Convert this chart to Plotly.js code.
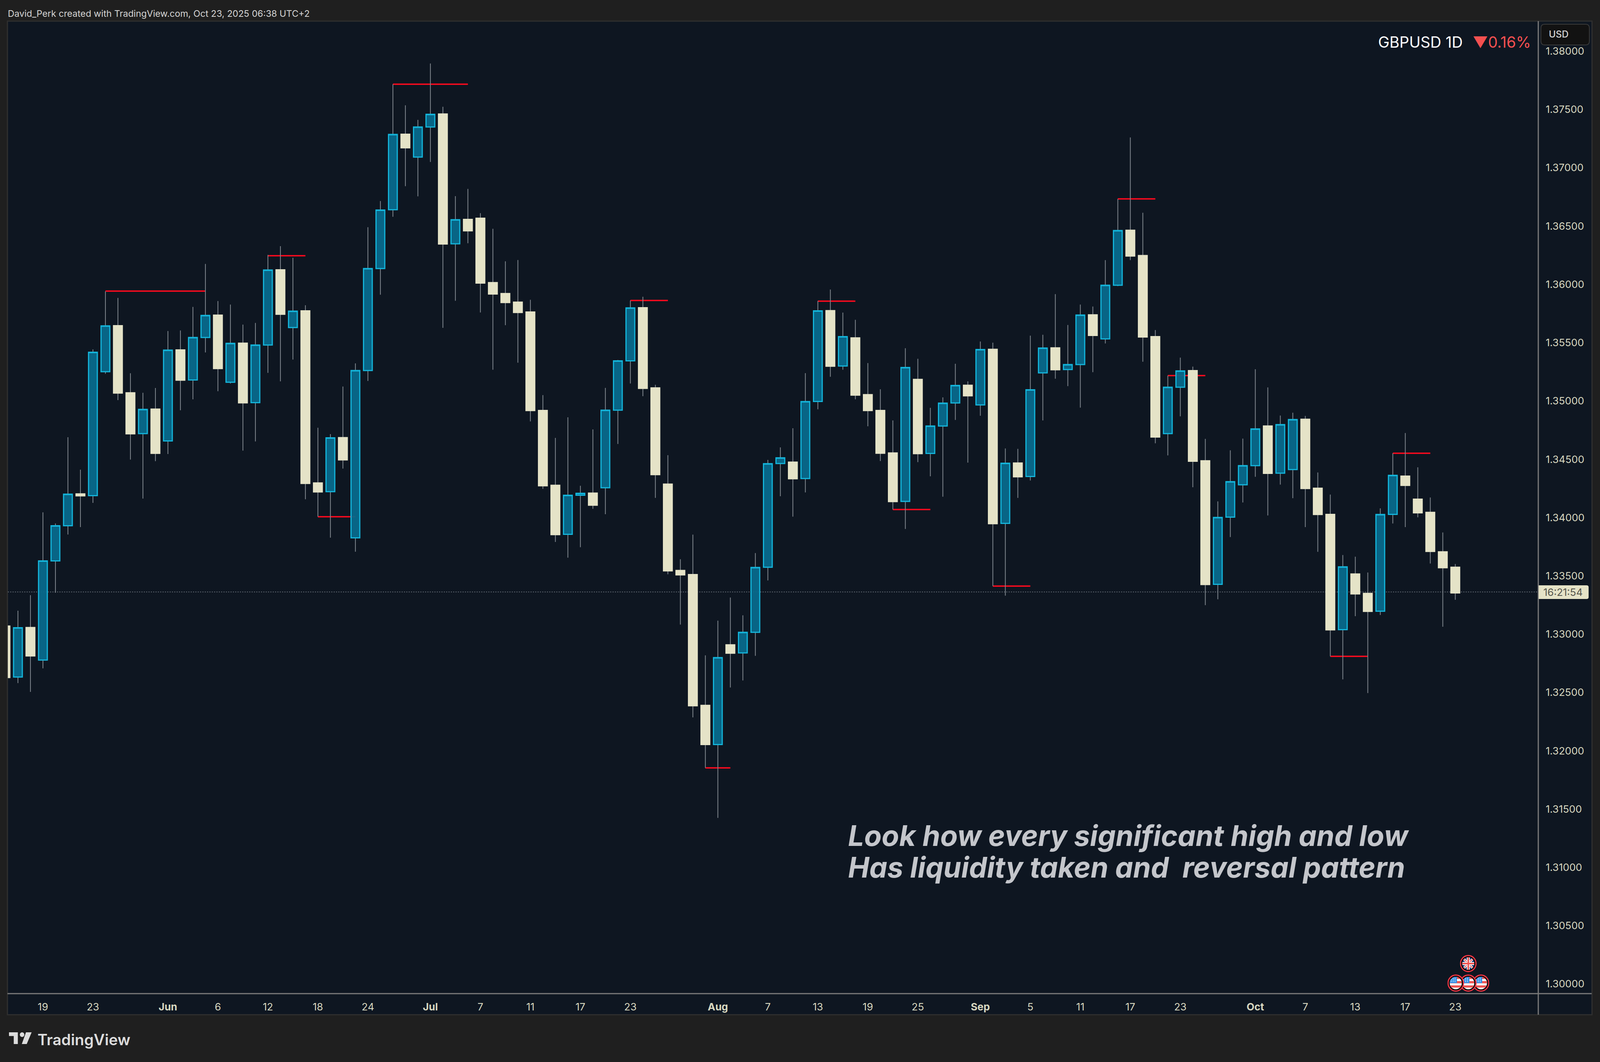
<!DOCTYPE html>
<html>
<head>
<meta charset="utf-8">
<title>GBPUSD 1D</title>
<script src="https://cdn.plot.ly/plotly-3.0.1.min.js"></script>
<style>
    html, body { margin: 0; padding: 0; background: #1f1f1f; overflow: hidden; }
</style>
</head>
<body>
<div id="graf"></div>
<script>
var days = [
    'May 14','May 15','May 16','May 19','May 20','May 21','May 22','May 23','May 26','May 27','May 28','May 29','May 30',
    'Jun 2','Jun 3','Jun 4','Jun 5','Jun 6','Jun 9','Jun 10','Jun 11','Jun 12','Jun 13','Jun 16','Jun 17','Jun 18','Jun 19','Jun 20','Jun 23','Jun 24','Jun 25','Jun 26','Jun 27','Jun 30',
    'Jul 1','Jul 2','Jul 3','Jul 4','Jul 7','Jul 8','Jul 9','Jul 10','Jul 11','Jul 14','Jul 15','Jul 16','Jul 17','Jul 18','Jul 21','Jul 22','Jul 23','Jul 24','Jul 25','Jul 28','Jul 29','Jul 30','Jul 31',
    'Aug 1','Aug 4','Aug 5','Aug 6','Aug 7','Aug 8','Aug 11','Aug 12','Aug 13','Aug 14','Aug 15','Aug 18','Aug 19','Aug 20','Aug 21','Aug 22','Aug 25','Aug 26','Aug 27','Aug 28','Aug 29',
    'Sep 1','Sep 2','Sep 3','Sep 4','Sep 5','Sep 8','Sep 9','Sep 10','Sep 11','Sep 12','Sep 15','Sep 16','Sep 17','Sep 18','Sep 19','Sep 22','Sep 23','Sep 24','Sep 25','Sep 26','Sep 29','Sep 30',
    'Oct 1','Oct 2','Oct 3','Oct 6','Oct 7','Oct 8','Oct 9','Oct 10','Oct 13','Oct 14','Oct 15','Oct 16','Oct 17','Oct 20','Oct 21','Oct 22','Oct 23'
];
var opens = [
    1.33070,1.32632,1.33057,1.32778,1.33628,1.33930,1.34203,1.34188,1.35251,1.35646,1.35070,1.34720,1.34930,1.34657,1.35438,1.35180,
    1.35544,1.35736,1.35161,1.35496,1.34986,1.35480,1.36125,1.35630,1.35773,1.34297,1.34222,1.34686,1.33826,1.35261,1.36136,1.36640,
    1.37288,1.37092,1.37350,1.37461,1.36348,1.36557,1.36567,1.36015,1.35921,1.35848,1.35763,1.34919,1.34277,1.33856,1.34191,1.34210,
    1.34256,1.34921,1.35344,1.35800,1.35112,1.34287,1.33546,1.33511,1.32389,1.32053,1.32909,1.32839,1.33016,1.33574,1.34464,1.34475,
    1.34335,1.34996,1.35775,1.35300,1.35541,1.35054,1.34919,1.34554,1.34139,1.35185,1.34550,1.34785,1.34983,1.35135,1.34966,1.35443,
    1.33950,1.34468,1.34352,1.35241,1.35456,1.35270,1.35312,1.35739,1.35533,1.35993,1.36464,1.36247,1.35552,1.34720,1.35118,1.35260,
    1.34487,1.33427,1.34004,1.34281,1.34445,1.34785,1.34381,1.34412,1.34843,1.34252,1.34027,1.33039,1.33516,1.33349,1.33197,1.34027,
    1.34356,1.34158,1.34045,1.33706,1.33574
];
var highs = [
    1.33100,1.33201,1.33334,1.34045,1.33949,1.34689,1.34411,1.35442,1.35940,1.35884,1.35238,1.35070,1.35111,1.35600,1.35605,1.35807,
    1.36175,1.35857,1.35827,1.35655,1.35669,1.36252,1.36328,1.36228,1.35821,1.34770,1.34716,1.35124,1.35322,1.36490,1.36715,1.37717,
    1.37536,1.37411,1.37894,1.37523,1.36757,1.36819,1.36611,1.36477,1.36198,1.36209,1.35868,1.35050,1.34683,1.34860,1.34273,1.34756,
    1.35112,1.35352,1.35862,1.35894,1.35139,1.34535,1.33643,1.33854,1.32818,1.33116,1.33314,1.33162,1.33695,1.34495,1.34602,1.34766,
    1.35239,1.35858,1.35956,1.35758,1.35696,1.35325,1.35100,1.34833,1.35452,1.35362,1.34941,1.35031,1.35319,1.35168,1.35510,1.35500,
    1.34593,1.34589,1.35560,1.35568,1.35916,1.35652,1.35827,1.35810,1.36208,1.36733,1.37260,1.36614,1.35608,1.35218,1.35372,1.35295,
    1.34675,1.34139,1.34577,1.34677,1.35272,1.35116,1.34875,1.34899,1.34872,1.34387,1.34197,1.33679,1.33664,1.33529,1.34079,1.34552,
    1.34725,1.34431,1.34172,1.33872,1.33602
];
var lows = [
    1.32600,1.32580,1.32505,1.32707,1.33355,1.33855,1.33918,1.34126,1.35234,1.35007,1.34497,1.34163,1.34484,1.34545,1.34920,1.35014,
    1.35416,1.35084,1.35150,1.34574,1.34653,1.35241,1.35168,1.35355,1.34157,1.34007,1.33828,1.34420,1.33707,1.35172,1.35911,1.36580,
    1.36842,1.36755,1.37050,1.35627,1.35859,1.36353,1.35759,1.35268,1.35650,1.35328,1.34825,1.34246,1.33791,1.33656,1.33746,1.34075,
    1.34029,1.34631,1.35150,1.35041,1.34169,1.33514,1.33082,1.32286,1.31853,1.31424,1.32543,1.32603,1.32814,1.33461,1.34183,1.34008,
    1.34216,1.34929,1.35208,1.35268,1.35014,1.34783,1.34485,1.34069,1.33902,1.34475,1.34354,1.34179,1.34837,1.34471,1.34873,1.33412,
    1.33330,1.34169,1.34318,1.34833,1.35191,1.35127,1.34943,1.35247,1.35493,1.35985,1.36208,1.35337,1.34637,1.34533,1.34868,1.34260,
    1.33249,1.33299,1.33833,1.34129,1.34350,1.34018,1.34283,1.34166,1.33918,1.33706,1.32810,1.32612,1.33154,1.32495,1.33164,1.33949,
    1.33918,1.34002,1.33606,1.33064,1.33295
];
var closes = [
    1.32628,1.33055,1.32813,1.33628,1.33930,1.34201,1.34186,1.35418,1.35644,1.35068,1.34718,1.34928,1.34551,1.35436,1.35178,1.35544,
    1.35734,1.35278,1.35494,1.34984,1.35480,1.36123,1.35744,1.35771,1.34293,1.34220,1.34684,1.34495,1.35261,1.36136,1.36638,1.37286,
    1.37171,1.37350,1.37459,1.36346,1.36555,1.36459,1.36011,1.35917,1.35844,1.35759,1.34918,1.34273,1.33854,1.34191,1.34208,1.34106,
    1.34921,1.35344,1.35798,1.35108,1.34368,1.33543,1.33509,1.32386,1.32053,1.32799,1.32837,1.33016,1.33572,1.34462,1.34512,1.34333,
    1.34995,1.35773,1.35298,1.35552,1.35050,1.34918,1.34552,1.34137,1.35287,1.34548,1.34785,1.34981,1.35133,1.35044,1.35441,1.33948,
    1.34466,1.34350,1.35096,1.35454,1.35268,1.35312,1.35737,1.35562,1.35993,1.36462,1.36243,1.35549,1.34691,1.35118,1.35258,1.34483,
    1.33426,1.34001,1.34308,1.34445,1.34760,1.34379,1.34797,1.34841,1.34249,1.34026,1.33037,1.33577,1.33345,1.33195,1.34026,1.34362,
    1.34276,1.34041,1.33710,1.33570,1.33354
];

// red liquidity levels
var levelStart = ['May 26','Jun 12','Jun 18','Jun 26','Jul 23','Jul 31','Aug 13','Aug 21','Sep 2','Sep 16','Sep 22','Oct 9','Oct 16'];
var levelEnd   = ['Jun 5','Jun 17','Jun 23','Jul 4','Jul 28','Aug 4','Aug 18','Aug 26','Sep 5','Sep 19','Sep 25','Oct 14','Oct 21'];
var levelPrice = [1.35942,1.36246,1.34007,1.37717,1.35862,1.31853,1.35856,1.34069,1.33412,1.36733,1.35218,1.32810,1.34552];
var lastPrice = 1.33362;

var priceTicks = [1.30,1.305,1.31,1.315,1.32,1.325,1.33,1.335,1.34,1.345,1.35,1.355,1.36,1.365,1.37,1.375,1.38];
var timeTicks = ['May 19','May 23','Jun 2','Jun 6','Jun 12','Jun 18','Jun 24','Jul 1','Jul 7','Jul 11','Jul 17','Jul 23','Aug 1','Aug 7','Aug 13','Aug 19','Aug 25','Sep 1','Sep 5','Sep 11','Sep 17','Sep 23','Oct 1','Oct 7','Oct 13','Oct 17','Oct 23'];
var timeLabels = ['19','23','<b>Jun</b>','6','12','18','24','<b>Jul</b>','7','11','17','23','<b>Aug</b>','7','13','19','25','<b>Sep</b>','5','11','17','23','<b>Oct</b>','7','13','17','23'];

// the window can be narrower than the reference, so everything is placed in reference pixels and fitted
var sirka = window.innerWidth, vyska = 2718;
var k = sirka / 4228;
var okraj = { l: 21 * k, r: 163 * k, t: 54, b: 175, pad: 0 };
var pismo = 'Inter, "Noto Sans", sans-serif';

function px(x) { return (x * k - okraj.l) / (sirka - okraj.l - okraj.r); }
function py(y) { return 1 - (y - okraj.t) / (vyska - okraj.t - okraj.b); }

function ramik(x0, y0, x1, y1, rl, rr) {
    return 'M' + px(x0 + rl) + ',' + py(y0) + ' L' + px(x1 - rr) + ',' + py(y0) +
        ' Q' + px(x1) + ',' + py(y0) + ' ' + px(x1) + ',' + py(y0 + rr) +
        ' L' + px(x1) + ',' + py(y1 - rr) +
        ' Q' + px(x1) + ',' + py(y1) + ' ' + px(x1 - rr) + ',' + py(y1) +
        ' L' + px(x0 + rl) + ',' + py(y1) +
        ' Q' + px(x0) + ',' + py(y1) + ' ' + px(x0) + ',' + py(y1 - rl) +
        ' L' + px(x0) + ',' + py(y0 + rl) +
        ' Q' + px(x0) + ',' + py(y0) + ' ' + px(x0 + rl) + ',' + py(y0) + ' Z';
}

function text(x, y, obsah, velkost, farba, xanchor, navyse) {
    var a = {
        xref: 'paper', yref: 'paper', x: px(x), y: py(y), text: obsah, showarrow: false,
        xanchor: xanchor, yanchor: 'middle', borderpad: 0,
        font: { family: pismo, size: velkost, color: farba }
    };
    for (var kluc in navyse) { a.font[kluc] = navyse[kluc]; }
    return a;
}

var wickTrace = {
    type: 'candlestick', x: days, open: opens, high: highs, low: lows, close: closes,
    whiskerwidth: 0, hoverinfo: 'skip', showlegend: false,
    increasing: { line: { color: '#7f868d', width: 2 }, fillcolor: 'rgba(0,0,0,0)' },
    decreasing: { line: { color: '#7f868d', width: 2 }, fillcolor: 'rgba(0,0,0,0)' }
};
var bodyTrace = {
    type: 'candlestick', x: days, open: opens, close: closes,
    high: opens.map(function (o, i) { return Math.max(o, closes[i]); }),
    low: opens.map(function (o, i) { return Math.min(o, closes[i]); }),
    whiskerwidth: 0, hoverinfo: 'skip', showlegend: false,
    increasing: { line: { color: '#13b4da', width: 3 }, fillcolor: 'rgba(8,106,140,0.94)' },
    decreasing: { line: { color: '#e5e3c7', width: 3 }, fillcolor: '#e5e3c7' }
};

var shapes = [
    // chart panel and its dividers
    { type: 'rect', xref: 'paper', yref: 'paper', x0: px(20), x1: px(4207), y0: py(54), y1: py(2597), layer: 'below',
      fillcolor: '#0e1621', line: { color: '#2f2f2f', width: 3 } },
    { type: 'line', xref: 'paper', yref: 'paper', x0: px(20), x1: px(4206), y0: py(2543), y1: py(2543), layer: 'above',
      line: { color: '#7a7a7a', width: 3 } },
    { type: 'line', xref: 'paper', yref: 'paper', x0: px(4065), x1: px(4065), y0: py(54), y1: py(2597), layer: 'above',
      line: { color: '#7a7a7a', width: 3 } },
    { type: 'line', xref: 'paper', yref: 'y', x0: 0, x1: 1, y0: lastPrice, y1: lastPrice, layer: 'below',
      line: { color: '#59616b', width: 2, dash: '3px,3px' } },
    // currency box and countdown box
    { type: 'path', xref: 'paper', yref: 'paper', path: ramik(4072, 62, 4200, 115, 10, 10), layer: 'above',
      fillcolor: '#121212', line: { color: '#3a3a3a', width: 2 } },
    { type: 'path', xref: 'paper', yref: 'paper', path: ramik(4066, 1498, 4198, 1533, 1, 5), layer: 'above',
      fillcolor: '#e5e3c7', line: { width: 0 } }
];
for (var i = 0; i < levelPrice.length; i++) {
    shapes.push({
        type: 'line', xref: 'x', yref: 'y', x0: levelStart[i], x1: levelEnd[i], y0: levelPrice[i], y1: levelPrice[i],
        layer: 'below', line: { color: '#ff0a1e', width: 3.5 }
    });
}

var annotations = [
    text(20, 35, 'David_Perk created with TradingView.com, Oct 23, 2025 06:38 UTC+2', 23.2, '#d4d4d4', 'left'),
    text(3867, 108, 'GBPUSD 1D', 39, '#ffffff', 'right'),
    text(3891, 108, '▼0.16%', 39, '#f45050', 'left'),
    text(4092, 88, 'USD', 24, '#d6d6d6', 'left', { weight: 500 }),
    text(4131, 1515, '16:21:54', 26, '#55554c', 'center'),
    text(2240, 2138, 'Look how every significant high and low', 73, '#c4c6cb', 'left', { style: 'italic', weight: 700 }),
    text(2240, 2219, 'Has liquidity taken and  reversal pattern', 73, '#c4c6cb', 'left', { style: 'italic', weight: 700 }),
    text(98, 2660, 'TradingView', 39, '#dcdcdc', 'left', { weight: 600 })
];

function svgObrazok(svg) {
    return 'data:image/svg+xml;charset=utf-8,' + encodeURIComponent(svg);
}

function vlajka(obsah) {
    return svgObrazok('<svg xmlns="http://www.w3.org/2000/svg" viewBox="0 0 44 44">' +
        '<defs><clipPath id="k"><circle cx="22" cy="22" r="16"/></clipPath></defs>' +
        '<circle cx="22" cy="22" r="20.5" fill="#0b0b0b" stroke="#f23645" stroke-width="3"/>' +
        '<g clip-path="url(#k)">' + obsah + '</g></svg>');
}

var usa = vlajka('<rect x="6" y="6" width="32" height="32" fill="#f4f6f8"/>' +
    '<rect x="6" y="17" width="32" height="5.5" fill="#ef5350"/>' +
    '<rect x="6" y="28" width="32" height="5.5" fill="#ef5350"/><rect x="6" y="6" width="32" height="5.5" fill="#ef5350"/>' +
    '<rect x="6" y="6" width="19" height="16" fill="#2f8fe8"/>' +
    '<path d="M9 10h2M14 10h2M19 10h2M9 14h2M14 14h2M19 14h2M9 18h2M14 18h2M19 18h2" stroke="#fff" stroke-width="2"/>');
var britania = vlajka('<rect x="6" y="6" width="32" height="32" fill="#17397f"/>' +
    '<path d="M6 6L38 38M38 6L6 38" stroke="#f4f6f8" stroke-width="6"/>' +
    '<path d="M6 6L38 38M38 6L6 38" stroke="#ef5350" stroke-width="2"/>' +
    '<path d="M22 6V38M6 22H38" stroke="#f4f6f8" stroke-width="8"/>' +
    '<path d="M22 6V38M6 22H38" stroke="#ef5350" stroke-width="4"/>');
var logo = svgObrazok('<svg xmlns="http://www.w3.org/2000/svg" viewBox="0 0 60 30">' +
    '<path d="M0 0H23.5V30H12.7V9.5H0Z" fill="#dcdcdc"/><circle cx="34.7" cy="6" r="6" fill="#dcdcdc"/>' +
    '<path d="M45 0H60L47 30H34Z" fill="#dcdcdc"/></svg>');

function obrazok(src, x, y, s, sy) {
    return {
        source: src, xref: 'paper', yref: 'paper', x: px(x), y: py(y), xanchor: 'center', yanchor: 'middle',
        sizex: s * k / (sirka - okraj.l - okraj.r), sizey: sy / (vyska - okraj.t - okraj.b), sizing: 'stretch', layer: 'above'
    };
}

var images = [
    obrazok(usa, 3913.6, 2516, 44, 44),
    obrazok(usa, 3880, 2516, 44, 44),
    obrazok(usa, 3847, 2516, 44, 44),
    obrazok(britania, 3880, 2466, 44, 44),
    obrazok(logo, 54, 2657, 60, 30)
];

var layout = {
    width: sirka, height: vyska, margin: okraj,
    paper_bgcolor: '#1f1f1f', plot_bgcolor: 'rgba(0,0,0,0)',
    showlegend: false, boxgap: 0.3, boxgroupgap: 0,
    font: { family: pismo, color: '#d8d8c0', size: 26 },
    xaxis: {
        type: 'category', categoryorder: 'array', categoryarray: days,
        range: [0.19, 122.64], autorange: false, fixedrange: true,
        rangeslider: { visible: false }, showgrid: false, zeroline: false, showline: false,
        tickmode: 'array', tickvals: timeTicks, ticktext: timeLabels, ticks: '', tickangle: 0,
        ticklabelstandoff: 16, tickfont: { family: pismo, size: 26, color: '#d8d8c0' }
    },
    yaxis: {
        side: 'right', range: [1.29917, 1.38258], autorange: false, fixedrange: true,
        showgrid: false, zeroline: false, showline: false,
        tickmode: 'array', tickvals: priceTicks, tickformat: '.5f', ticks: '',
        ticklabelstandoff: 18, tickfont: { family: pismo, size: 26, color: '#d8d8c0' }
    },
    shapes: shapes, annotations: annotations, images: images
};

Plotly.newPlot('graf', [wickTrace, bodyTrace], layout, { displayModeBar: false, responsive: false });
</script>
</body>
</html>
